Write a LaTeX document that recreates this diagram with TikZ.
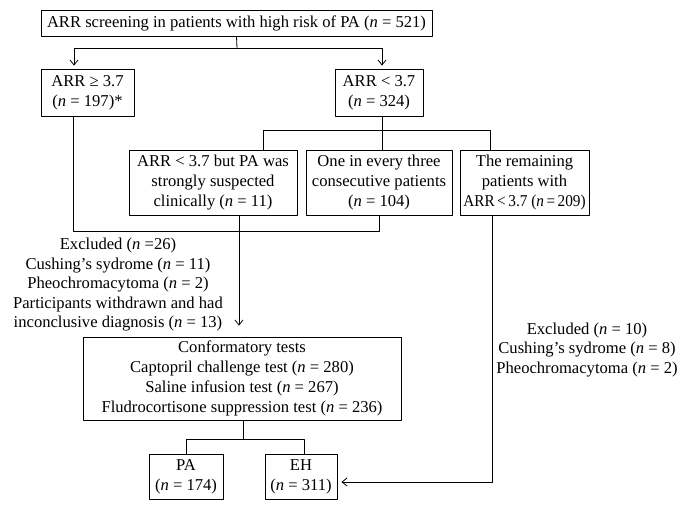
\documentclass[tikz,border=0pt]{standalone}
\usepackage{fontspec}
\setmainfont{Liberation Serif}
\usetikzlibrary{arrows.meta}
\newcommand{\nn}{\textit{n}}

\begin{document}
\begin{tikzpicture}[x=1pt,y=-1pt,line cap=round,line join=round,>={Straight Barb[length=5pt,width=8pt]},
  box/.style={draw,line width=0.8pt,align=center,inner sep=0pt,font=\fontsize{16.6}{19.8}\selectfont},
  note/.style={align=center,inner sep=0pt,font=\fontsize{16.6}{19.5}\selectfont},
  link/.style={line width=0.8pt}]
\useasboundingbox (0,0) rectangle (687,511);
% boxes
\node[box,minimum width=391pt,minimum height=26pt] (screen) at (236.5,23) {ARR screening in patients with high risk of PA (\nn{} = 521)};
\node[box,minimum width=93pt,minimum height=47pt] (ge) at (87.5,92.5) {ARR ≥ 3.7\\(\nn{} = 197)*};
\node[box,minimum width=88pt,minimum height=47pt] (lt) at (379,92.5) {ARR < 3.7\\(\nn{} = 324)};
\node[box,minimum width=168pt,minimum height=65pt] (susp) at (213,182.5) {ARR < 3.7 but PA was\\strongly suspected\\clinically (\nn{} = 11)};
\node[box,minimum width=146pt,minimum height=65pt] (third) at (379,182.5) {One in every three\\consecutive patients\\(\nn{} = 104)};
\node[box,minimum width=129pt,minimum height=65pt] (rest) at (524.5,182.5) {The remaining\\patients with\\\scalebox{0.92}[1]{ARR\,<\,3.7 (\nn\,=\,209)}};
\node[box,minimum width=318pt,minimum height=83pt] (conf) at (242,378.5) {Conformatory tests\\Captopril challenge test (\nn{} = 280)\\Saline infusion test (\nn{} = 267)\\Fludrocortisone suppression test (\nn{} = 236)};
\node[box,minimum width=74pt,minimum height=45pt] (pa) at (186,476.5) {PA\\(\nn{} = 174)};
\node[box,minimum width=72pt,minimum height=45pt] (eh) at (301,476.5) {EH\\(\nn{} = 311)};
% exclusions
\node[note] (exclA) at (118,285) {Excluded (\nn{} =26)\\Cushing’s sydrome (\nn{} = 11)\\Pheochromacytoma (\nn{} = 2)\\Participants withdrawn and had\\inconclusive diagnosis (\nn{} = 13)};
\node[note] (exclB) at (587,350) {Excluded (\nn{} = 10)\\Cushing’s sydrome (\nn{} = 8)\\Pheochromacytoma (\nn{} = 2)};
% connectors
\coordinate (geIn) at ([xshift=-13.5pt]ge.north);
\coordinate (ltIn) at ([xshift=3pt]lt.north);
\coordinate (split) at (237,48);
\draw[link] (screen.south) -- (split);
\draw[link,->,shorten >=3pt] (split) -| (geIn);
\draw[link,->,shorten >=3pt] (split) -| (ltIn);
\coordinate (ltOut) at ([xshift=3pt]lt.south);
\coordinate (suspIn) at ([xshift=50pt]susp.north);
\coordinate (restIn) at ([xshift=-34.5pt]rest.north);
\draw[link] (ltOut) -- (ltOut |- third.north);
\draw[link] (suspIn) -- ++(0,-19) -| (restIn);
\coordinate (geOut) at ([xshift=-14.5pt]ge.south);
\draw[link] (geOut) -- ++(0,115) -| (third.south);
\coordinate (suspOut) at ([xshift=26pt]susp.south);
\draw[link,->,shorten >=11pt] (suspOut) -- (suspOut |- conf.north);
\coordinate (confOut) at ([xshift=1pt]conf.south);
\draw[link] (confOut) -- ++(0,19) -| (pa.north);
\draw[link] (confOut) -- ++(0,19) -| ([xshift=3pt]eh.north);
\coordinate (restOut) at ([xshift=-32.5pt]rest.south);
\coordinate (ehIn) at ([yshift=-5.5pt]eh.east);
\draw[link,->,shorten >=4pt] (restOut) |- (ehIn);
\end{tikzpicture}
\end{document}
